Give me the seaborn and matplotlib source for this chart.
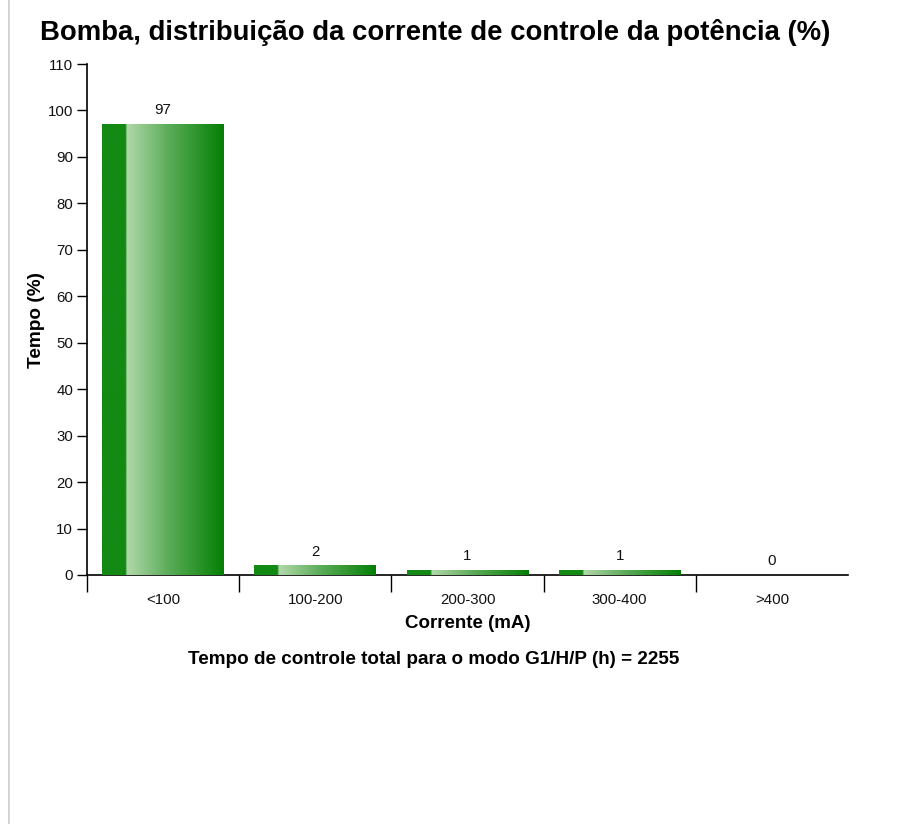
import matplotlib
matplotlib.use("Agg")
import matplotlib.pyplot as plt
import matplotlib.lines as mlines
from matplotlib.colors import LinearSegmentedColormap
import numpy as np
import pandas as pd
import seaborn as sns

categories = ["<100", "100-200", "200-300", "300-400", ">400"]
values = [97, 2, 1, 1, 0]

sns.set_style("white")
plt.rcParams["font.family"] = ["Liberation Sans", "DejaVu Sans"]
plt.rcParams["text.color"] = "black"
plt.rcParams["axes.labelcolor"] = "black"

df = pd.DataFrame({"cat": categories, "val": values})

fig = plt.figure(figsize=(9.09, 8.24), dpi=100)
ax = fig.add_axes([87 / 909, 1 - 575 / 824, (848 - 87) / 909, (575 - 64) / 824])

sns.barplot(data=df, x="cat", y="val", color="#0a820a", width=0.8, ax=ax,
            saturation=1, edgecolor="none")

# gradient fill: dark strip on left, then light -> dark green
cmap = LinearSegmentedColormap.from_list(
    "g", [(0, "#138a13"), (0.199, "#138a13"), (0.2, "#b2d9aa"),
          (0.55, "#5aac58"), (1, "#047f04")])
grad = np.linspace(0, 1, 256).reshape(1, -1)
for p in ax.patches:
    x0, w, h = p.get_x(), p.get_width(), p.get_height()
    if h <= 0:
        continue
    ax.imshow(grad, cmap=cmap, aspect="auto", extent=[x0, x0 + w, 0, h],
              zorder=3, interpolation="bicubic")
    p.set_alpha(0)

for c in ax.containers:
    ax.bar_label(c, labels=[str(v) for v in values], padding=5,
                 fontsize=10.8, color="#111111")

ax.set_xlim(-0.5, 4.5)
ax.set_ylim(0, 110)
ax.set_yticks(range(0, 111, 10))
ax.tick_params(axis="y", length=7, width=1, color="black", labelsize=10.8,
               labelcolor="#111111", pad=3, left=True)
ax.set_xticks(range(5))
ax.set_xticklabels(categories)
ax.set_xticks([-0.5, 0.5, 1.5, 2.5, 3.5], minor=True)
ax.tick_params(axis="x", which="major", length=0, labelsize=10.8,
               labelcolor="#111111", pad=13)
ax.tick_params(axis="x", which="minor", length=12, width=1, color="black",
               bottom=True)

for s in ["top", "right"]:
    ax.spines[s].set_visible(False)
for s in ["left", "bottom"]:
    ax.spines[s].set_color("black")
    ax.spines[s].set_linewidth(1.2)

ax.set_xlabel("Corrente (mA)", fontsize=13.5, fontweight="bold", labelpad=6)
ax.set_ylabel("Tempo (%)", fontsize=13.7, fontweight="bold", labelpad=2)

fig.text(435 / 909, 1 - 33 / 824,
         "Bomba, distribuição da corrente de controle da potência (%)",
         ha="center", va="center", fontsize=19.8, fontweight="bold")
fig.text(434 / 909, 1 - 660 / 824,
         "Tempo de controle total para o modo G1/H/P (h) = 2255",
         ha="center", va="center", fontsize=13.6, fontweight="bold")

fig.add_artist(mlines.Line2D([8.5 / 909, 8.5 / 909], [0, 1],
                             color="#cccccc", lw=1.2,
                             transform=fig.transFigure))

fig.savefig("out.png", dpi=100)
